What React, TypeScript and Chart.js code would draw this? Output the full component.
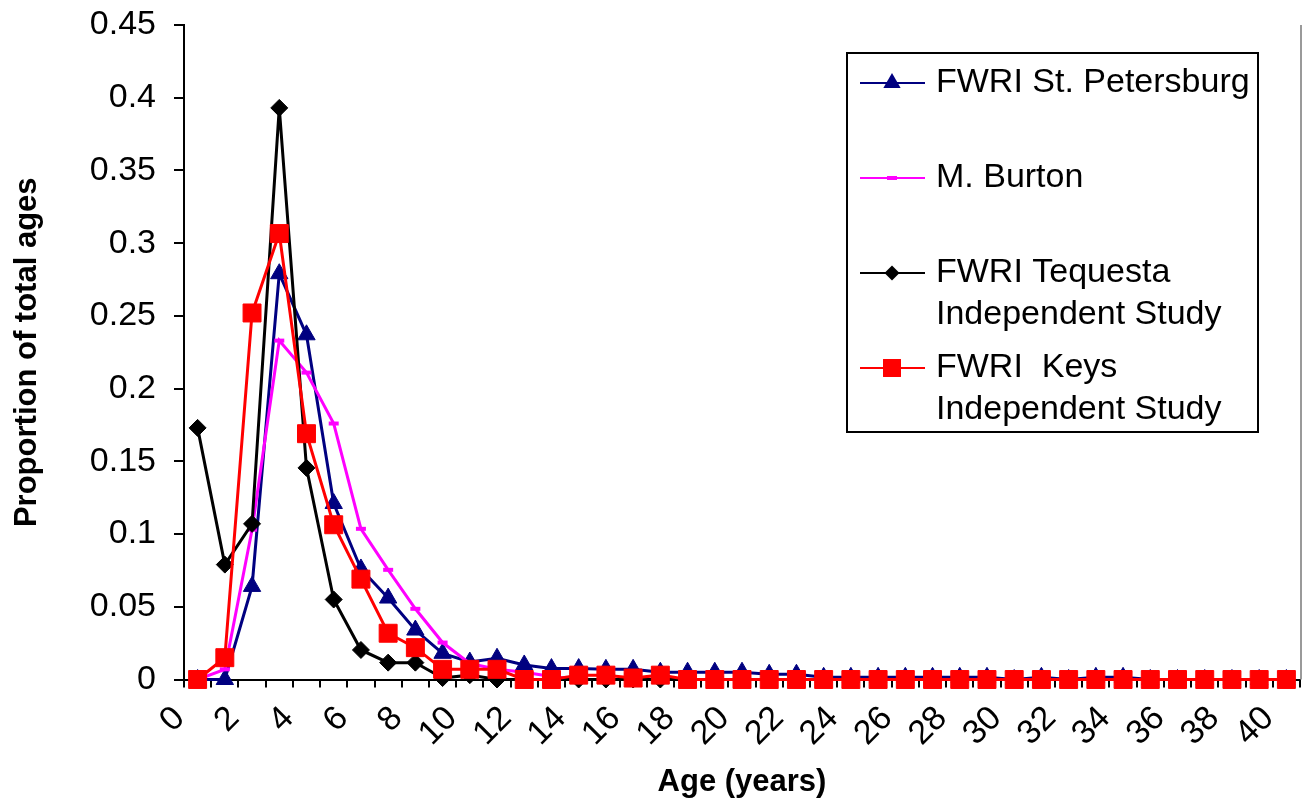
import React, { useEffect, useRef } from 'react';
import { Chart, registerables } from 'chart.js';

Chart.register(...registerables);

const FONT = "'Liberation Sans', Arial, Helvetica, sans-serif";

const ageLabels = [
  '0', '1', '2', '3', '4', '5', '6', '7', '8', '9', '10',
  '11', '12', '13', '14', '15', '16', '17', '18', '19', '20',
  '21', '22', '23', '24', '25', '26', '27', '28', '29', '30',
  '31', '32', '33', '34', '35', '36', '37', '38', '39', '40',
];

const stPetersburg = [
  0, 0, 0.064, 0.279, 0.237, 0.121, 0.076, 0.056, 0.034, 0.018, 0.012,
  0.0146, 0.01, 0.0075, 0.0075, 0.007, 0.007, 0.005, 0.005, 0.005, 0.005,
  0.0036, 0.0036, 0.0015, 0.0015, 0.0015, 0.0015, 0.0015, 0.0015, 0.0015, 0,
  0.0015, 0, 0.0015, 0.0015, 0, 0, 0, 0, 0, 0,
];

const burton = [
  0, 0.007, 0.103, 0.233, 0.211, 0.176, 0.1036, 0.0754, 0.0486, 0.0254, 0.011,
  0.007, 0.005, 0.002, 0, 0, 0, 0, 0, 0, 0,
  0, 0, 0, 0, 0, 0, 0, 0, 0, 0,
  0, 0, 0, 0, 0, 0, 0, 0, 0, 0,
];

const tequesta = [
  0.173, 0.079, 0.107, 0.393, 0.1455, 0.055, 0.0203, 0.0116, 0.0116, 0.001, 0.003,
  0, 0, 0, 0, 0, 0, 0, 0, 0, 0,
  0, 0, 0, 0, 0, 0, 0, 0, 0, 0,
  0, 0, 0, 0, 0, 0, 0, 0, 0, 0,
];

const keys = [
  0, 0.015, 0.252, 0.3066, 0.169, 0.1064, 0.069, 0.0318, 0.0219, 0.007, 0.007,
  0.007, 0, 0, 0.003, 0.003, 0.001, 0.003, 0, 0, 0,
  0, 0, 0, 0, 0, 0, 0, 0, 0, 0,
  0, 0, 0, 0, 0, 0, 0, 0, 0, 0,
];

const seriesNames = [
  'FWRI St. Petersburg',
  'M. Burton',
  'FWRI Tequesta Independent Study',
  'FWRI  Keys Independent Study',
];
const legendText = [
  ['FWRI St. Petersburg'],
  ['M. Burton'],
  ['FWRI Tequesta', 'Independent Study'],
  ['FWRI  Keys', 'Independent Study'],
];
const colors = ['#000080', '#FF00FF', '#000000', '#FF0000'];
const pointStyles = ['triangle', 'line', 'rectRot', 'rect'];
const pointRadii = [10, 5, 8.5, 12.7];
const legendRadii = [10, 5, 7.5, 12.7];

function drawMarker(ctx: CanvasRenderingContext2D, style: string, x: number, y: number, r: number, color: string) {
  ctx.save();
  ctx.fillStyle = color;
  ctx.strokeStyle = color;
  ctx.beginPath();
  if (style === 'triangle') {
    ctx.moveTo(x, y - r);
    ctx.lineTo(x + r * 0.866, y + r / 2);
    ctx.lineTo(x - r * 0.866, y + r / 2);
    ctx.closePath();
    ctx.fill();
  } else if (style === 'rectRot') {
    ctx.moveTo(x, y - r);
    ctx.lineTo(x + r, y);
    ctx.lineTo(x, y + r);
    ctx.lineTo(x - r, y);
    ctx.closePath();
    ctx.fill();
  } else if (style === 'rect') {
    const s = r * Math.SQRT1_2;
    ctx.rect(x - s, y - s, 2 * s, 2 * s);
    ctx.fill();
  } else if (style === 'line') {
    ctx.lineWidth = 4;
    ctx.moveTo(x - r, y);
    ctx.lineTo(x + r, y);
    ctx.stroke();
  }
  ctx.restore();
}

const legendPlugin = {
  id: 'boxLegend',
  afterDraw(chart: any) {
    const ctx: CanvasRenderingContext2D = chart.ctx;
    const area = chart.chartArea;
    const box = { x: 847, y: 53, w: 411, h: 379 };
    const rowY = [83, 178, 273, 368];
    const lineGap = 42;
    ctx.save();
    // faint right border of the plot area
    ctx.strokeStyle = '#9a9a9a';
    ctx.lineWidth = 2;
    ctx.beginPath();
    ctx.moveTo(area.right + 1, area.top);
    ctx.lineTo(area.right + 1, area.bottom);
    ctx.stroke();

    ctx.fillStyle = '#ffffff';
    ctx.fillRect(box.x, box.y, box.w, box.h);
    ctx.strokeStyle = '#000000';
    ctx.lineWidth = 2;
    ctx.strokeRect(box.x, box.y, box.w, box.h);
    ctx.font = `34px ${FONT}`;
    ctx.textBaseline = 'middle';
    ctx.textAlign = 'left';
    chart.data.datasets.forEach((ds: any, i: number) => {
      const y = rowY[i];
      ctx.strokeStyle = ds.borderColor;
      ctx.lineWidth = 2;
      ctx.beginPath();
      ctx.moveTo(860, y);
      ctx.lineTo(925, y);
      ctx.stroke();
      drawMarker(ctx, pointStyles[i], 892, y, legendRadii[i], ds.borderColor);
      ctx.fillStyle = '#000000';
      legendText[i].forEach((t, j) => ctx.fillText(t, 936, y + j * lineGap));
    });
    ctx.restore();
  },
};

export default function App() {
  const ref = useRef<HTMLCanvasElement>(null);
  useEffect(() => {
    const series = [stPetersburg, burton, tequesta, keys];
    const chart = new Chart(ref.current as HTMLCanvasElement, {
      type: 'line',
      data: {
        labels: ageLabels,
        datasets: series.map((data, i) => ({
          label: seriesNames[i],
          data,
          borderColor: colors[i],
          backgroundColor: colors[i],
          borderWidth: 3,
          pointStyle: pointStyles[i] as any,
          pointRadius: pointRadii[i],
          pointHoverRadius: pointRadii[i],
          pointBackgroundColor: colors[i],
          pointBorderColor: colors[i],
          pointBorderWidth: i === 1 ? 4 : 1,
          tension: 0,
          fill: false,
          clip: false,
          order: 3 - i,
        })),
      },
      options: {
        responsive: false,
        animation: false,
        events: [],
        layout: { autoPadding: false, padding: { top: 25, right: 4, left: 0, bottom: 0 } },
        plugins: { legend: { display: false }, tooltip: { enabled: false } },
        scales: {
          x: {
            type: 'category',
            offset: true,
            grid: { offset: true, drawOnChartArea: false, drawTicks: true, tickLength: 8, color: '#000', lineWidth: 2 },
            border: { display: true, color: '#000', width: 2 },
            ticks: {
              autoSkip: false,
              minRotation: 45,
              maxRotation: 45,
              labelOffset: -18,
              padding: 11,
              color: '#000',
              font: { family: FONT, size: 34 },
              callback: (_v: any, i: number) => (i % 2 === 0 ? ageLabels[i] : ''),
            },
            title: {
              display: true,
              text: 'Age (years)',
              color: '#000',
              font: { family: FONT, size: 31, weight: 'bold', lineHeight: 1 },
              padding: { top: 0, bottom: 2 },
            },
            afterFit: (s: any) => {
              s.height = 120.5;
              s.paddingLeft = 0;
              s.paddingRight = 0;
            },
          },
          y: {
            min: 0,
            max: 0.45,
            grid: { drawOnChartArea: false, drawTicks: true, tickLength: 10, color: '#000', lineWidth: 2 },
            border: { display: true, color: '#000', width: 2 },
            ticks: {
              stepSize: 0.05,
              padding: 18,
              color: '#000',
              font: { family: FONT, size: 34 },
              callback: (v: any) => String(Number(Number(v).toFixed(2))),
            },
            title: {
              display: true,
              text: 'Proportion of total ages',
              color: '#000',
              font: { family: FONT, size: 31, weight: 'bold', lineHeight: 1.2 },
              padding: { top: 9, bottom: 0 },
            },
            afterFit: (s: any) => {
              s.width = 184;
              s.paddingTop = 0;
              s.paddingBottom = 0;
            },
          },
        },
      } as any,
      plugins: [legendPlugin],
    });
    return () => chart.destroy();
  }, []);
  return (
    <div style={{ position: 'absolute', left: 0, top: 0, width: 1304, height: 800, background: '#fff' }}>
      <canvas ref={ref} width={1304} height={800} style={{ display: 'block' }} />
    </div>
  );
}
